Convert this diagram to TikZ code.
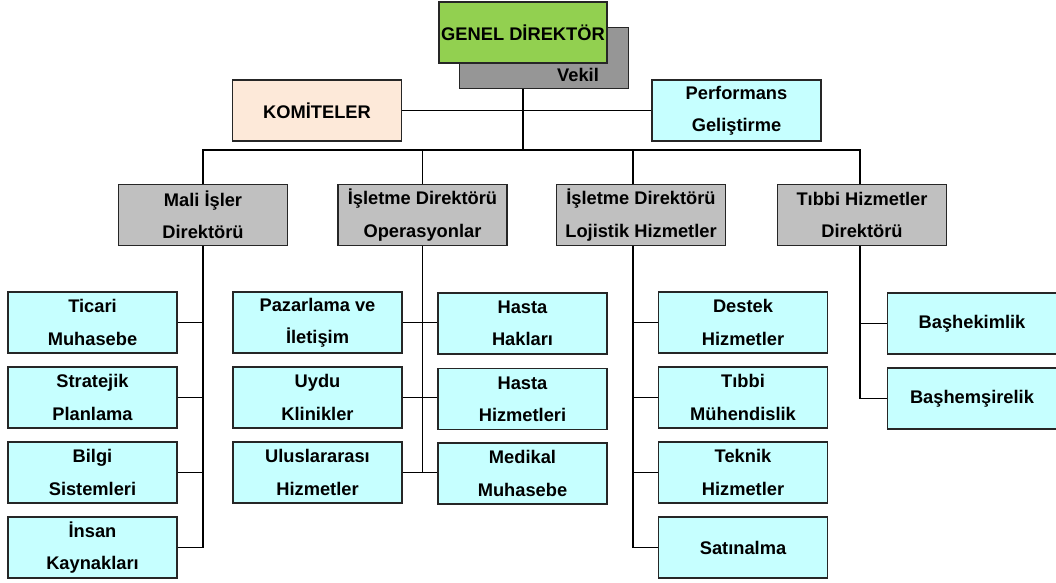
\documentclass[tikz,border=0pt]{standalone}
\usepackage{fontspec}
\setmainfont{Liberation Sans}
\usetikzlibrary{positioning}

\definecolor{kutumavi}{HTML}{C6FFFF}
\definecolor{kutugri}{HTML}{C0C0C0}
\definecolor{vekilgri}{HTML}{969696}
\definecolor{genelyesil}{HTML}{92D050}
\definecolor{komiteten}{HTML}{FDE9D9}

\begin{document}
\begin{tikzpicture}[
        % Piksel benzeri birimler (y asagi dogru)
        x=0.025cm, y=-0.025cm,
        % Kutu ve cizgi stilleri
        box/.style={draw=black!85, line width=1.1pt, minimum width=4.23cm, minimum height=1.53cm,
                    inner sep=0pt, align=center, font=\fontsize{13}{23}\selectfont\bfseries},
        unit_box/.style={box, fill=kutumavi},
        director_box/.style={box, fill=kutugri},
        genel_box/.style={box, fill=genelyesil, minimum width=4.2cm},
        vekil_box/.style={box, fill=vekilgri},
        komite_box/.style={box, fill=komiteten},
        link/.style={line width=0.9pt, black}
    ]
    \useasboundingbox (0,0) rectangle (1056,583);

    % ==============================
    % 1. UST YONETIM
    % ==============================
    \coordinate (trunk) at (523,150);
    \node[genel_box] (genel) at (523,32.5) {};
    \draw[link] (genel.south) -- (trunk);

    % Vekil kutusu (genel direktorun arkasinda)
    \node[vekil_box] (vekil) at (544,58) {};
    \node[font=\fontsize{13}{15}\selectfont\bfseries] (vekiltext) at (578,75) {Vekil};
    \node[genel_box] (genel) at (523,32.5) {GENEL DİREKTÖR};

    \node[komite_box] (komite) at (317,110.5) {KOMİTELER};
    \node[unit_box] (perf) at (736.5,110.5) {Performans\\Geliştirme};
    \draw[link] (komite.east) -- (perf.west);

    % ==============================
    % 2. DIREKTORLUKLER
    % ==============================
    \node[director_box] (mali) at (203,215) {Mali İşler\\Direktörü};
    \node[director_box] (opr) at (422.5,215) {İşletme Direktörü\\Operasyonlar};
    \node[director_box] (loj) at (641,215) {İşletme Direktörü\\Lojistik Hizmetler};
    \node[director_box] (tibbi) at (862,215) {Tıbbi Hizmetler\\Direktörü};

    \draw[link] (mali.north) |- (trunk) -| ([xshift=-0.05cm]tibbi.north);
    \draw[link] (opr.north) |- (trunk);
    \draw[link] ([xshift=-0.2cm]loj.north) |- (trunk);

    % ==============================
    % 3. MALI ISLER BIRIMLERI
    % ==============================
    \node[unit_box] (ticari) at (92.5,322.5) {Ticari\\Muhasebe};
    \node[unit_box] (strateji) at (92.5,397.5) {Stratejik\\Planlama};
    \node[unit_box] (bilgi) at (92.5,472.5) {Bilgi\\Sistemleri};
    \node[unit_box] (insan) at (92.5,547.5) {İnsan\\Kaynakları};

    \draw[link] (mali.south) |- (insan.east);
    \foreach \b in {ticari, strateji, bilgi}
        \draw[link] (\b.east) -- (\b.east -| mali.south);

    % ==============================
    % 4. OPERASYON BIRIMLERI
    % ==============================
    \node[unit_box] (pazar) at (317.5,322.5) {Pazarlama ve\\İletişim};
    \node[unit_box] (uydu) at (317.5,397.5) {Uydu\\Klinikler};
    \node[unit_box] (ulus) at (317.5,472.5) {Uluslararası\\Hizmetler};
    \node[unit_box] (hakki) at (522.5,323.5) {Hasta\\Hakları};
    \node[unit_box] (hhizmet) at (522.5,399) {Hasta\\Hizmetleri};
    \node[unit_box] (medikal) at (522.5,473.5) {Medikal\\Muhasebe};

    \draw[link] (opr.south) -- (opr.south |- ulus.east);
    \draw[link] (pazar.east) -- (pazar.east -| hakki.west);
    \draw[link] (uydu.east) -- (uydu.east -| hhizmet.west);
    \draw[link] (ulus.east) -- (ulus.east -| medikal.west);

    % ==============================
    % 5. LOJISTIK BIRIMLERI
    % ==============================
    \node[unit_box] (destek) at (743,322.5) {Destek\\Hizmetler};
    \node[unit_box] (muhendis) at (743,397.5) {Tıbbi\\Mühendislik};
    \node[unit_box] (teknik) at (743,472.5) {Teknik\\Hizmetler};
    \node[unit_box] (satin) at (743,547.5) {Satınalma};

    \draw[link] ([xshift=-0.2cm]loj.south) |- (satin.west);
    \foreach \b in {destek, muhendis, teknik}
        \draw[link] (\b.west) -- (\b.west -| satin.west) -- ++(-25,0);

    % ==============================
    % 6. TIBBI HIZMETLER BIRIMLERI
    % ==============================
    \node[unit_box] (bashek) at (972,323.5) {Başhekimlik};
    \node[unit_box] (bashem) at (972,398.5) {Başhemşirelik};

    \draw[link] ([xshift=-0.05cm]tibbi.south) |- (bashem.west);
    \draw[link] (bashek.west) -- ++(-28,0);

\end{tikzpicture}
\end{document}
